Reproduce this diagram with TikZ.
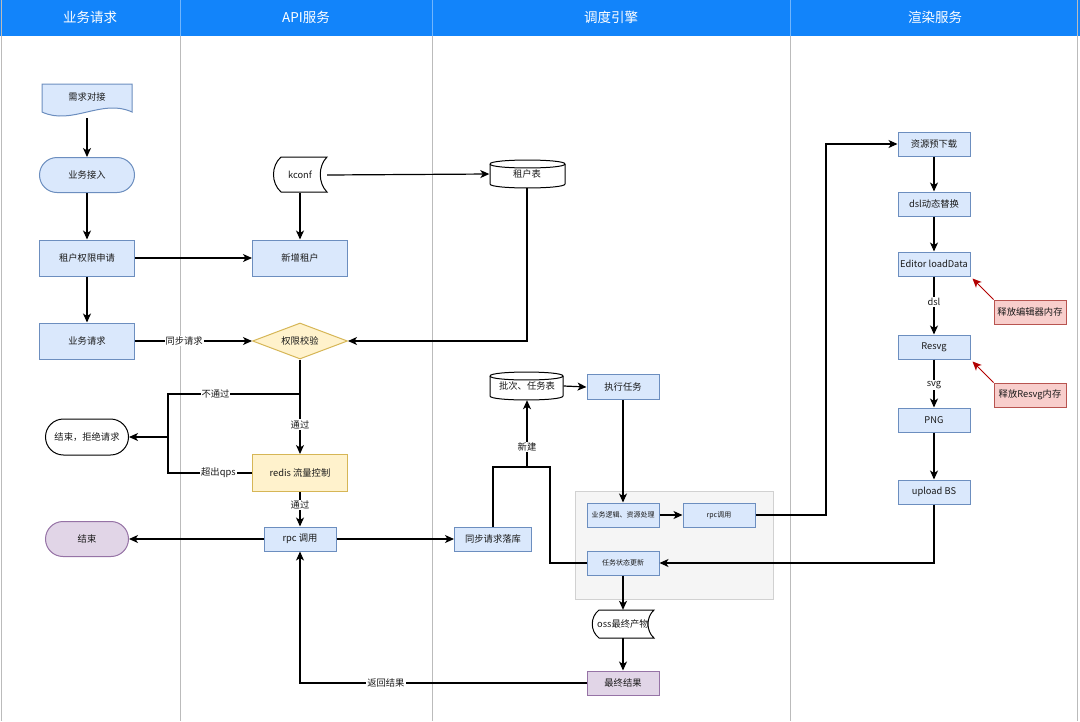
\documentclass[tikz,border=0pt]{standalone}
\usepackage{fontspec}
\setmainfont{Noto Sans CJK SC}
\usetikzlibrary{arrows.meta,shapes.geometric,calc}
\definecolor{hdr}{RGB}{18,132,250}
\definecolor{bfill}{HTML}{DAE8FC}
\definecolor{bdraw}{HTML}{6C8EBF}
\definecolor{yfill}{HTML}{FFF2CC}
\definecolor{ydraw}{HTML}{D6B656}
\definecolor{pfill}{HTML}{E1D5E7}
\definecolor{pdraw}{HTML}{9673A6}
\definecolor{rfill}{HTML}{F8CECC}
\definecolor{rdraw}{HTML}{B85450}
\definecolor{lanec}{HTML}{BBBBBB}
\definecolor{arrred}{HTML}{B20000}
\definecolor{txt}{HTML}{1A1A1A}
\begin{document}
\begin{tikzpicture}[x=1pt,y=-1pt,
  every node/.style={font=\fontsize{9.3pt}{11pt}\selectfont, inner sep=0pt, text=txt},
  bbox/.style={draw=bdraw, fill=bfill, line width=1pt},
  bigbox/.style={bbox, minimum width=95pt, minimum height=36pt},
  smallbox/.style={bbox, minimum width=72pt, minimum height=24pt},
  tinytext/.style={font=\fontsize{7pt}{8pt}\selectfont},
  ghost/.style={draw=none, fill=none},
  lineb/.style={line width=1.2pt, draw=black},
  flow/.style={lineb, -{Stealth[length=9pt,width=8pt,inset=2.5pt]}},
  redflow/.style={line width=1pt, draw=arrred, -{Stealth[length=9pt,width=8pt,inset=2.5pt]}},
  lbl/.style={fill=white, inner sep=1pt},
  hdrtext/.style={font=\fontsize{13.5pt}{15pt}\selectfont, text=white},
  outl/.style={line width=1pt, draw=black, fill=white}
]
\useasboundingbox (0,0) rectangle (1080,721);
\fill[white] (0,0) rectangle (1080,721);

% header
\fill[hdr] (0,0) rectangle (1080,36);
\foreach \xx in {180,432,790} {
  \draw[hdr!60!white, line width=0.8pt] (\xx,0) -- (\xx,36);
  \draw[lanec, line width=0.9pt] (\xx,36) -- (\xx,721);
}
\draw[lanec, line width=1.2pt] (1.5,0) -- (1.5,721);
\draw[lanec, line width=1.2pt] (1077.5,0) -- (1077.5,721);
\node[hdrtext] (h1) at (90,17) {业务请求};
\node[hdrtext] (h2) at (306,17) {API服务};
\node[hdrtext] (h3) at (611,17) {调度引擎};
\node[hdrtext] (h4) at (935,17) {渲染服务};

% gray container
\draw[fill=black!4, draw=black!18, line width=0.8pt] (575,491) rectangle (773,599);

% custom outlines
\draw[bbox] (42,84) -- (132,84) -- (132,112) .. controls (102,98) and (72,126) .. (42,112) -- cycle;
\draw[outl] (281,157) -- (327,157) .. controls (318,166) and (318,183) .. (327,192) -- (281,192) .. controls (271,183) and (271,166) .. (281,157) -- cycle;
\draw[outl] (599,610) -- (654,610) .. controls (646,617) and (646,631) .. (654,638) -- (599,638) .. controls (590,631) and (590,617) .. (599,610) -- cycle;
\draw[outl] (490,164) .. controls (490,158.7) and (565,158.7) .. (565,164) -- (565,184) .. controls (565,189.3) and (490,189.3) .. (490,184) -- cycle;
\draw[line width=1pt] (490,164) .. controls (490,169.3) and (565,169.3) .. (565,164);
\draw[outl] (490,376) .. controls (490,370.7) and (563,370.7) .. (563,376) -- (563,396) .. controls (563,401.3) and (490,401.3) .. (490,396) -- cycle;
\draw[line width=1pt] (490,376) .. controls (490,381.3) and (563,381.3) .. (563,376);

% business lane
\node[ghost, minimum width=90pt, minimum height=42pt] (xq) at (87,97) {需求对接};
\node[bbox, rounded corners=17.5pt, minimum width=95pt, minimum height=35pt] (yw) at (87,175) {业务接入};
\node[bigbox] (zq) at (87,258) {租户权限申请};
\node[bigbox] (ywqq) at (87,341) {业务请求};
\node[draw=black, fill=white, line width=1pt, rounded corners=18pt, minimum width=83pt, minimum height=36pt] (jr) at (87,437) {结束，拒绝请求};
\node[draw=pdraw, fill=pfill, line width=1pt, rounded corners=17.5pt, minimum width=83pt, minimum height=35pt] (end) at (87,539) {结束};

% API lane
\node[ghost, minimum width=54pt, minimum height=35pt] (kconf) at (300,175) {kconf};
\node[bigbox] (xz) at (300,258) {新增租户};
\node[diamond, aspect=2.6, draw=ydraw, fill=yfill, line width=1pt, minimum width=95pt, minimum height=36pt] (qx) at (300,341) {权限校验};
\node[draw=ydraw, fill=yfill, line width=1pt, minimum width=95pt, minimum height=37pt] (redis) at (300,473) {redis 流量控制};
\node[smallbox] (rpc) at (300,539) {rpc 调用};

% scheduler lane
\node[ghost, minimum width=75pt, minimum height=28pt] (zhb) at (527,174) {租户表};
\node[ghost, minimum width=73pt, minimum height=28pt] (pc) at (527,386) {批次、任务表};
\node[smallbox, minimum width=77pt] (tb) at (493,539) {同步请求落库};
\node[smallbox, minimum height=25pt] (zx) at (623,387) {执行任务};
\node[smallbox, tinytext] (yl) at (623,515) {业务逻辑、资源处理};
\node[smallbox, tinytext] (rpc2) at (719,515) {rpc调用};
\node[smallbox, tinytext] (rw) at (623,563) {任务状态更新};
\node[ghost, minimum width=62pt, minimum height=28pt] (oss) at (623,624) {oss最终产物};
\node[draw=pdraw, fill=pfill, line width=1pt, minimum width=72pt, minimum height=24pt] (fin) at (623,683) {最终结果};

% render lane
\node[smallbox] (ys) at (934,144) {资源预下载};
\node[smallbox] (dsl) at (934,204) {dsl动态替换};
\node[smallbox] (ed) at (934,264) {Editor loadData};
\node[smallbox] (resvg) at (934,347) {Resvg};
\node[smallbox] (png) at (934,420) {PNG};
\node[smallbox] (up) at (934,492) {upload BS};
\node[draw=rdraw, fill=rfill, line width=1pt, minimum width=72pt, minimum height=24pt] (sf1) at (1030,312) {释放编辑器内存};
\node[draw=rdraw, fill=rfill, line width=1pt, minimum width=72pt, minimum height=24pt] (sf2) at (1030,395) {释放Resvg内存};

% junction coordinates
\coordinate (br1) at (300,394);
\coordinate (jn) at (168,437);
\coordinate (jx) at (527,467);
\coordinate (jy) at (550,467);
\coordinate (rt) at (826,144);

% connectors
\draw[flow] (xq.south) -- (yw.north);
\draw[flow] (yw.south) -- (zq.north);
\draw[flow] (zq.south) -- (ywqq.north);
\draw[flow] (zq.east) -- (xz.west);
\draw[flow] (kconf.south) -- (xz.north);
\draw[flow] (kconf.east) -- (zhb.west);
\draw[flow] (ywqq.east) -- node[lbl, pos=0.42]{同步请求} (qx.west);
\draw[flow] (zhb.south) |- (qx.east);
\draw[flow] (qx.south) -- node[lbl, pos=0.69]{通过} (redis.north);
\draw[lineb] (br1) -| node[lbl, pos=0.32]{不通过} (jn);
\draw[lineb] (redis.west) -| node[lbl, pos=0.2]{超出qps} (jn);
\draw[flow] (jn) -- (jr.east);
\draw[flow] (redis.south) -- node[lbl, pos=0.37]{通过} (rpc.north);
\draw[flow] (rpc.west) -- (end.east);
\draw[flow] (rpc.east) -- (tb.west);
\draw[lineb] (tb.north) |- (jx);
\draw[lineb] (rw.west) -| (jy) -- (jx);
\draw[flow] (jx) -- node[lbl, pos=0.3]{新建} (pc.south);
\draw[flow] (pc.east) -- (zx.west);
\draw[flow] (zx.south) -- (yl.north);
\draw[flow] (yl.east) -- (rpc2.west);
\draw[flow] (rpc2.east) -| (rt) -- (ys.west);
\draw[flow] (ys.south) -- (dsl.north);
\draw[flow] (dsl.south) -- (ed.north);
\draw[flow] (ed.south) -- node[lbl, pos=0.44]{dsl} (resvg.north);
\draw[flow] (resvg.south) -- node[lbl, pos=0.53]{svg} (png.north);
\draw[flow] (png.south) -- (up.north);
\draw[flow] (up.south) |- (rw.east);
\draw[flow] (rw.south) -- (oss.north);
\draw[flow] (oss.south) -- (fin.north);
\draw[flow] (fin.west) -| node[lbl, pos=0.35]{返回结果} (rpc.south);
\draw[redflow] (sf1.north west) -- ([shift={(2pt,-2pt)}]ed.south east);
\draw[redflow] (sf2.north west) -- ([shift={(2pt,-2pt)}]resvg.south east);
\end{tikzpicture}
\end{document}
